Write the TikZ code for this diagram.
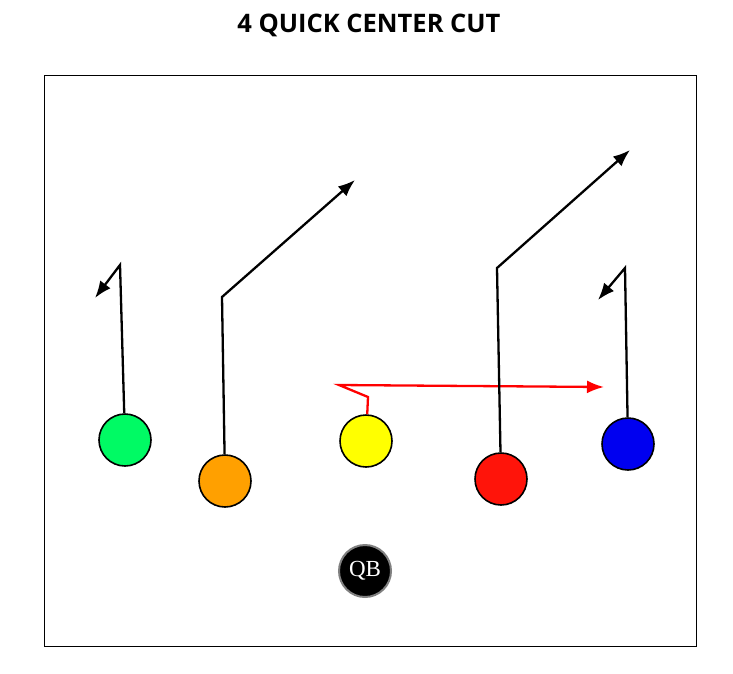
\documentclass[tikz,border=0pt]{standalone}
\usepackage{fontspec}
\newfontfamily\titlefont{Open Sans}
\newfontfamily\qbfont{Liberation Serif}
\usetikzlibrary{arrows.meta,positioning,calc}

\tikzset{
    player/.style={circle, draw=black, line width=1.6pt, minimum size=52pt, inner sep=0pt},
    route/.style={line width=2.3pt, -{Latex[length=17pt,width=13pt]}},
}

\begin{document}
\begin{tikzpicture}[x=1pt,y=-1pt]
    \useasboundingbox (0,0) rectangle (733,673);
    \node[font=\titlefont\bfseries\fontsize{25.5}{30}\selectfont] (title) at (369,25) {4 QUICK CENTER CUT};
    \draw[line width=1pt] (44,75) rectangle (696,646);
    % players
    \node[player, fill={rgb,255:red,0;green,250;blue,100}] (green) at (125,440) {};
    \node[player, fill={rgb,255:red,255;green,160;blue,0}] (orange) at (225,481) {};
    \node[player, fill={rgb,255:red,255;green,255;blue,0}] (yellow) at (366,441) {};
    \node[player, fill={rgb,255:red,255;green,20;blue,10}] (red) at (501,479) {};
    \node[player, fill={rgb,255:red,0;green,0;blue,240}] (blue) at (628,444) {};
    \node[player, fill=black, draw=gray, line width=2pt, text=white, font=\qbfont\fontsize{23}{26}\selectfont] (qb) at (365,571) {QB};
    % route points
    \coordinate (g1) at (120,265);
    \coordinate (g2) at (95,298);
    \coordinate (o1) at (222,297);
    \coordinate (o2) at (355,180);
    \coordinate (y1) at (368,397);
    \coordinate (y2) at (339,385);
    \coordinate (y3) at (604,387);
    \coordinate (r1) at (497,268);
    \coordinate (r2) at (630,150);
    \coordinate (b1) at (625,268);
    \coordinate (b2) at (598,300);
    % routes
    \draw[route] (green) -- (g1) -- (g2);
    \draw[route] (orange) -- (o1) -- (o2);
    \draw[route, red] (yellow) -- (y1) -- (y2) -- (y3);
    \draw[route] (red) -- (r1) -- (r2);
    \draw[route] (blue) -- (b1) -- (b2);
\end{tikzpicture}
\end{document}
